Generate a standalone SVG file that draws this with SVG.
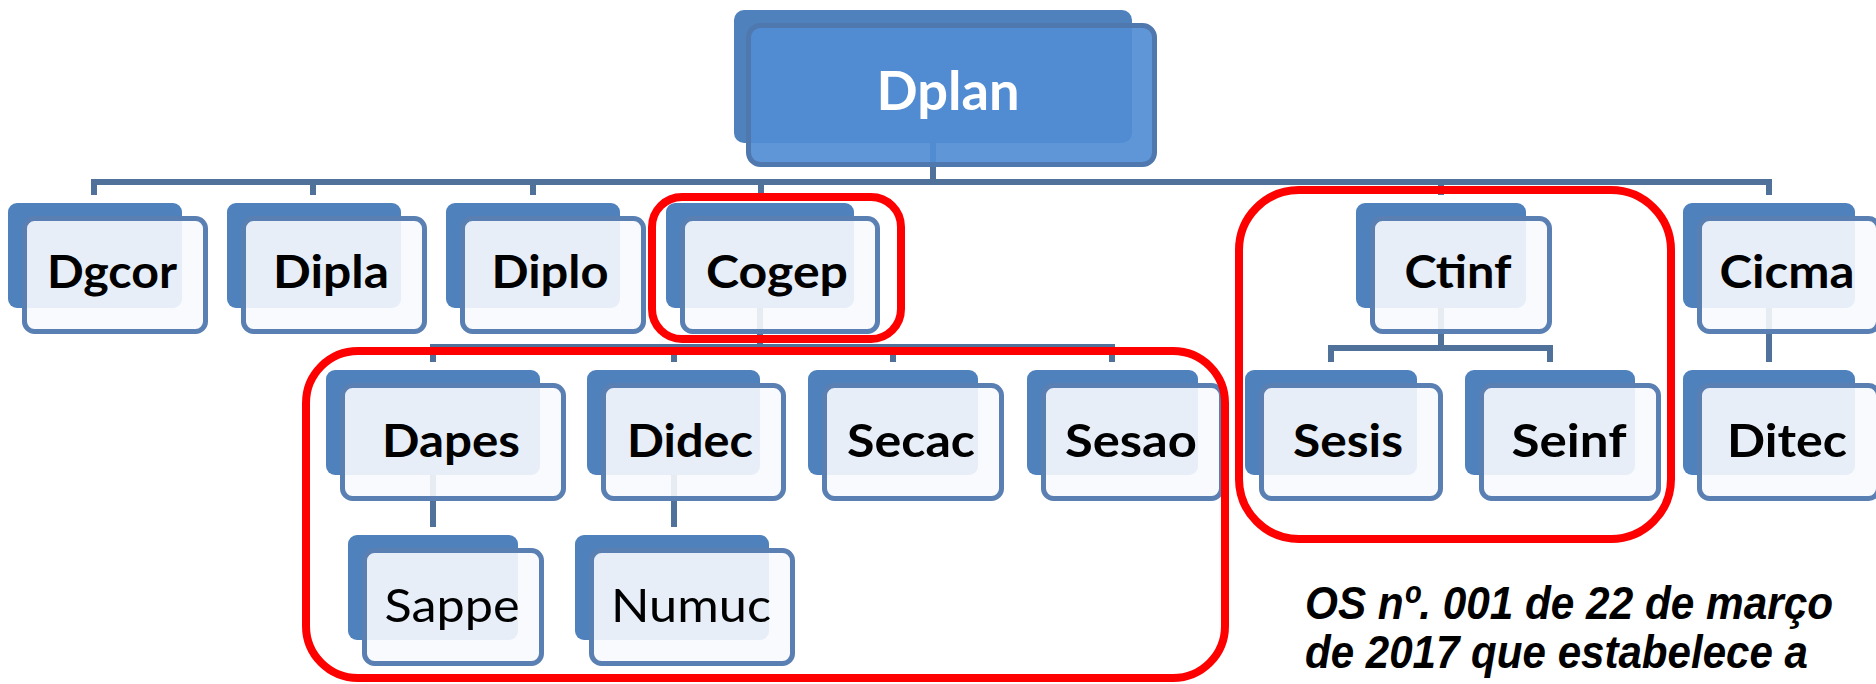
<svg xmlns="http://www.w3.org/2000/svg" width="1876" height="684" viewBox="0 0 1876 684">
<style>
.bk{fill:#4F81BD}
.fr{fill:#F7F9FD;fill-opacity:0.9;stroke:#5A7FB3;stroke-width:5}
.frd{fill:#518DD5;fill-opacity:0.92;stroke:#4F79AE;stroke-width:5}
.lb{font-family:Lato,"Open Sans","Liberation Sans",sans-serif;font-weight:700;font-size:46px;fill:#000;text-anchor:middle}
.lr{font-family:Lato,"Open Sans","Liberation Sans",sans-serif;font-weight:400;font-size:47px;fill:#000;text-anchor:middle}
.lt{font-family:Lato,"Open Sans","Liberation Sans",sans-serif;font-weight:700;font-size:53px;fill:#FFFFFF;text-anchor:middle}
.cn{stroke:#50719A;stroke-width:6;fill:none}
.rb{fill:none;stroke:#FF0000;stroke-width:8}
.note{font-family:"Liberation Sans",Arial,sans-serif;font-weight:700;font-style:italic;font-size:46px;fill:#000}
</style>
<rect x="0" y="0" width="1876" height="684" fill="#FFFFFF"/>
<g id="connectors">
<path class="cn" d="M933,143 V182 M94,195 V182 H1769 V195 M313,182 V195 M533,182 V195 M761,182 V195 M1441,182 V195"/>
<path class="cn" d="M760,308 V347 M433,362 V347 H1112 V362 M674,347 V362 M893,347 V362"/>
<path class="cn" d="M1441,308 V348 M1331,362 V348 H1550 V362"/>
<path class="cn" d="M1769,308 V362"/>
<path class="cn" d="M433,475 V527 M674,475 V527"/>
</g>
<g id="n-dplan">
<rect class="bk" x="734" y="10" width="398" height="133" rx="10"/>
<rect class="frd" x="748.5" y="25.5" width="406" height="139" rx="12"/>
<text class="lt" x="948" y="110" textLength="143" lengthAdjust="spacingAndGlyphs">Dplan</text>
</g>
<g id="n-dgcor">
<rect class="bk" x="8" y="203" width="174" height="105" rx="9"/>
<rect class="fr" x="24.5" y="218.5" width="181" height="113" rx="10"/>
<text class="lb" x="112" y="288" textLength="130" lengthAdjust="spacingAndGlyphs">Dgcor</text>
</g>
<g id="n-dipla">
<rect class="bk" x="227" y="203" width="174" height="105" rx="9"/>
<rect class="fr" x="243.5" y="218.5" width="181" height="113" rx="10"/>
<text class="lb" x="331" y="288" textLength="116" lengthAdjust="spacingAndGlyphs">Dipla</text>
</g>
<g id="n-diplo">
<rect class="bk" x="446" y="203" width="174" height="105" rx="9"/>
<rect class="fr" x="462.5" y="218.5" width="181" height="113" rx="10"/>
<text class="lb" x="550" y="288" textLength="117" lengthAdjust="spacingAndGlyphs">Diplo</text>
</g>
<g id="n-cogep">
<rect class="bk" x="666" y="203" width="188" height="105" rx="9"/>
<rect class="fr" x="682.5" y="218.5" width="195" height="113" rx="10"/>
<text class="lb" x="777" y="288" textLength="142" lengthAdjust="spacingAndGlyphs">Cogep</text>
</g>
<g id="n-ctinf">
<rect class="bk" x="1356" y="203" width="170" height="105" rx="9"/>
<rect class="fr" x="1372.5" y="218.5" width="177" height="113" rx="10"/>
<text class="lb" x="1458" y="288" textLength="107" lengthAdjust="spacingAndGlyphs">Ctinf</text>
</g>
<g id="n-cicma">
<rect class="bk" x="1683" y="203" width="172" height="105" rx="9"/>
<rect class="fr" x="1699.5" y="218.5" width="179" height="113" rx="10"/>
<text class="lb" x="1787" y="288" textLength="135" lengthAdjust="spacingAndGlyphs">Cicma</text>
</g>
<g id="n-dapes">
<rect class="bk" x="326" y="370" width="214" height="105" rx="9"/>
<rect class="fr" x="342.5" y="385.5" width="221" height="113" rx="10"/>
<text class="lb" x="451" y="457" textLength="138" lengthAdjust="spacingAndGlyphs">Dapes</text>
</g>
<g id="n-didec">
<rect class="bk" x="587" y="370" width="173" height="105" rx="9"/>
<rect class="fr" x="603.5" y="385.5" width="180" height="113" rx="10"/>
<text class="lb" x="690" y="457" textLength="126" lengthAdjust="spacingAndGlyphs">Didec</text>
</g>
<g id="n-secac">
<rect class="bk" x="808" y="370" width="170" height="105" rx="9"/>
<rect class="fr" x="824.5" y="385.5" width="177" height="113" rx="10"/>
<text class="lb" x="911" y="457" textLength="128" lengthAdjust="spacingAndGlyphs">Secac</text>
</g>
<g id="n-sesao">
<rect class="bk" x="1027" y="370" width="171" height="105" rx="9"/>
<rect class="fr" x="1043.5" y="385.5" width="178" height="113" rx="10"/>
<text class="lb" x="1131" y="457" textLength="132" lengthAdjust="spacingAndGlyphs">Sesao</text>
</g>
<g id="n-sesis">
<rect class="bk" x="1245" y="370" width="172" height="105" rx="9"/>
<rect class="fr" x="1261.5" y="385.5" width="179" height="113" rx="10"/>
<text class="lb" x="1348" y="457" textLength="110" lengthAdjust="spacingAndGlyphs">Sesis</text>
</g>
<g id="n-seinf">
<rect class="bk" x="1465" y="370" width="170" height="105" rx="9"/>
<rect class="fr" x="1481.5" y="385.5" width="177" height="113" rx="10"/>
<text class="lb" x="1569" y="457" textLength="115" lengthAdjust="spacingAndGlyphs">Seinf</text>
</g>
<g id="n-ditec">
<rect class="bk" x="1683" y="370" width="172" height="105" rx="9"/>
<rect class="fr" x="1699.5" y="385.5" width="179" height="113" rx="10"/>
<text class="lb" x="1787" y="457" textLength="120" lengthAdjust="spacingAndGlyphs">Ditec</text>
</g>
<g id="n-sappe">
<rect class="bk" x="348" y="535" width="170" height="105" rx="9"/>
<rect class="fr" x="364.5" y="550.5" width="177" height="113" rx="10"/>
<text class="lr" x="452" y="622" textLength="135" lengthAdjust="spacingAndGlyphs">Sappe</text>
</g>
<g id="n-numuc">
<rect class="bk" x="575" y="535" width="194" height="105" rx="9"/>
<rect class="fr" x="591.5" y="550.5" width="201" height="113" rx="10"/>
<text class="lr" x="691" y="622" textLength="160" lengthAdjust="spacingAndGlyphs">Numuc</text>
</g>
<g id="highlights">
<rect class="rb" x="652" y="197" width="249" height="142" rx="30"/>
<rect class="rb" x="306" y="351" width="919" height="327" rx="52"/>
<rect class="rb" x="1239" y="190" width="432" height="349" rx="60"/>
</g>
<g id="note">
<text class="note" x="1305" y="619" textLength="528" lengthAdjust="spacingAndGlyphs">OS nº. 001 de 22 de março</text>
<text class="note" x="1305" y="668" textLength="503" lengthAdjust="spacingAndGlyphs">de 2017 que estabelece a</text>
</g>
</svg>
